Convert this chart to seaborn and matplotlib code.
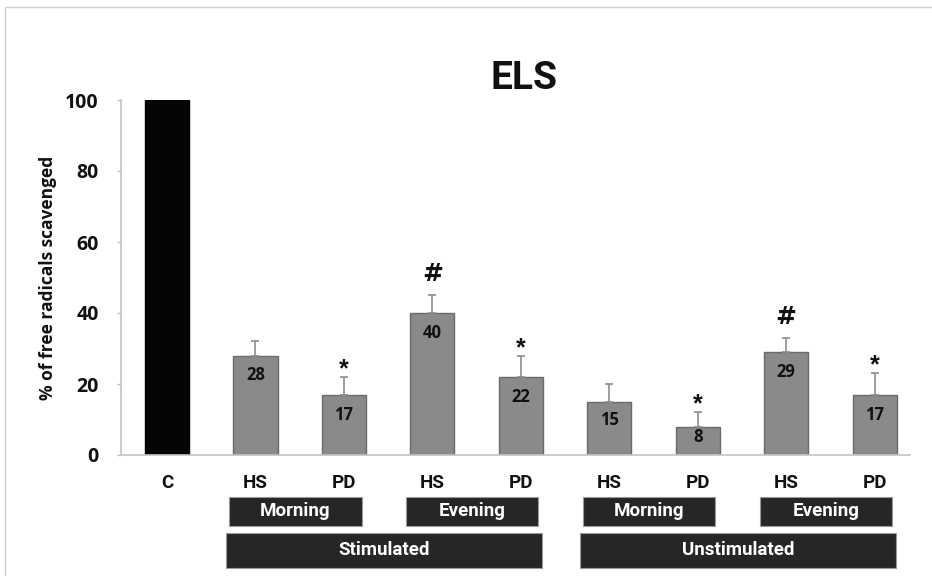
import matplotlib
matplotlib.use("Agg")
import matplotlib.pyplot as plt
from matplotlib.patches import Rectangle
import seaborn as sns
import pandas as pd

# Scavenging data
labels = ["C", "HS", "PD", "HS", "PD", "HS", "PD", "HS", "PD"]
values = [100, 28, 17, 40, 22, 15, 8, 29, 17]
errors = [0, 4, 5, 5, 6, 5, 4, 4, 6]
marks = ["", "", "*", "#", "*", "", "*", "#", "*"]

# Grouping rows under the axis: (text, first bar, last bar)
time_groups = [("Morning", 1, 2), ("Evening", 3, 4), ("Morning", 5, 6), ("Evening", 7, 8)]
state_groups = [("Stimulated", 1, 4), ("Unstimulated", 5, 8)]

sns.set_theme(style="white")
narrow = ["Roboto", "Liberation Sans", "DejaVu Sans"]
num_font = ["Open Sans", "DejaVu Sans"]

fig = plt.figure(figsize=(9.32, 5.76), dpi=100)
ax = fig.add_axes([121 / 932, 1 - 455 / 576, (910 - 121) / 932, 355 / 576])

df = pd.DataFrame({"pos": [str(i) for i in range(len(values))], "value": values})
colors = ["#050505"] + ["#8a8a8a"] * (len(values) - 1)
edges = ["#000000"] + ["#6a6a6a"] * (len(values) - 1)
sns.barplot(data=df, x="pos", y="value", hue="pos", palette=colors, legend=False,
            width=0.5, ax=ax, errorbar=None, linewidth=1.0)
for patch, ec in zip(ax.patches, edges):
    patch.set_edgecolor(ec)

xs = list(range(len(values)))
# upper-only error bars
ax.errorbar(xs[1:], values[1:], yerr=[[0] * (len(values) - 1), errors[1:]],
            fmt="none", ecolor="#8c8c8c", elinewidth=1.2, capsize=3, capthick=1.2, zorder=3)

# value labels inside the grey bars
for x, v in zip(xs[1:], values[1:]):
    ax.text(x, v - min(5.6, v * 0.35), f"{v}", ha="center", va="center",
            fontsize=12, fontweight="bold", family=num_font, color="#111111", zorder=4)

# significance marks
for x, v, e, m in zip(xs, values, errors, marks):
    if m == "*":
        ax.text(x, v + e - 1.2, m, ha="center", va="bottom", fontsize=18,
                fontweight="bold", family=["Liberation Sans"], color="#111111")
    elif m == "#":
        ax.text(x, v + e + 2.5, m, ha="center", va="bottom", fontsize=18,
                fontweight="bold", family=["DejaVu Sans"], color="#111111")

ax.set_xlim(-0.52, 8.4)
ax.set_ylim(0, 100)
ax.set_yticks([0, 20, 40, 60, 80, 100])
ax.set_yticklabels(["0", "20", "40", "60", "80", "100"], fontsize=14,
                   fontweight="bold", family=num_font, color="#111111")
ax.set_xticks(xs)
ax.set_xticklabels(labels, fontsize=13.5, fontweight="bold", family=narrow, color="#111111")
ax.tick_params(axis="y", which="major", left=True, length=3, width=1, color="#bdbdbd",
               direction="out", pad=13)
ax.tick_params(axis="x", bottom=False, pad=8)
ax.set_xlabel("")
ax.set_ylabel("% of free radicals scavenged", fontsize=12.5, fontweight="bold",
              family=num_font, color="#111111", labelpad=6)
for side in ("top", "right"):
    ax.spines[side].set_visible(False)
for side in ("left", "bottom"):
    ax.spines[side].set_color("#c4c4c4")
    ax.spines[side].set_linewidth(1.2)

ax.set_title("ELS", fontsize=28, fontweight="bold", family=narrow, color="#111111",
             pad=8, x=0.511)

# dark labelled boxes beneath the axis
tr = ax.get_xaxis_transform()


def box(x0, x1, y0, y1, text):
    ax.add_patch(Rectangle((x0, y0), x1 - x0, y1 - y0, transform=tr, clip_on=False,
                           facecolor="#262626", edgecolor="#9a9a9a", linewidth=0.8))
    ax.text((x0 + x1) / 2, (y0 + y1) / 2, text, transform=tr, ha="center", va="center",
            color="white", fontsize=13.5, fontweight="bold", family=narrow, clip_on=False)


for text, a, b in time_groups:
    box(a - 0.3, b + 0.2, -0.2, -0.118, text)
for text, a, b in state_groups:
    box(a - 0.33, b + 0.24, -0.318, -0.22, text)

# thin frame around the figure
fig.add_artist(Rectangle((5 / 932, -0.01), 1.0, 1 - 7 / 576 + 0.01, transform=fig.transFigure,
                         fill=False, edgecolor="#d0d0d0", linewidth=1.0))

fig.savefig("out.png", dpi=100, facecolor="white")
